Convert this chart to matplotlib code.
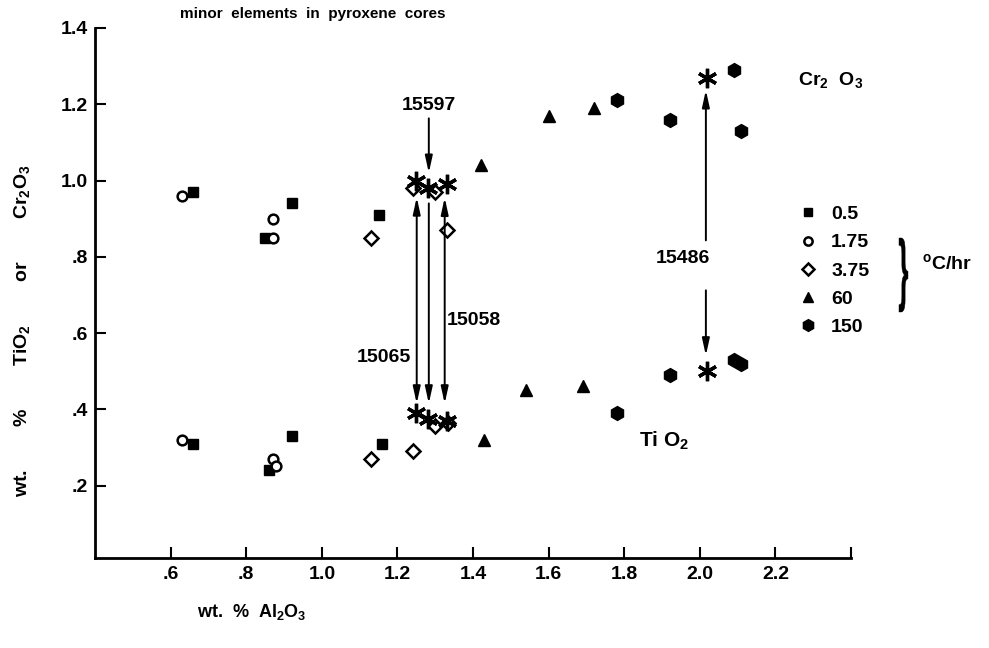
import matplotlib
matplotlib.use("Agg")
import matplotlib.pyplot as plt
from matplotlib.lines import Line2D
from matplotlib.textpath import TextPath
from matplotlib.patches import PathPatch
from matplotlib.font_manager import FontProperties
from matplotlib.transforms import Affine2D, IdentityTransform

plt.rcParams['font.family'] = ['Liberation Sans', 'DejaVu Sans']
plt.rcParams['font.weight'] = 'bold'
plt.rcParams['mathtext.default'] = 'regular'

# cooling rate 0.5 C/hr
r05_al_cr = [0.66, 0.85, 0.92, 1.15]
r05_cr = [0.97, 0.85, 0.94, 0.91]
r05_al_ti = [0.66, 0.86, 0.92, 1.16]
r05_ti = [0.31, 0.24, 0.33, 0.31]
# 1.75
r175_al_cr = [0.63, 0.87, 0.87]
r175_cr = [0.96, 0.90, 0.85]
r175_al_ti = [0.63, 0.87, 0.88]
r175_ti = [0.32, 0.27, 0.25]
# 3.75
r375_al_cr = [1.13, 1.24, 1.30, 1.33]
r375_cr = [0.85, 0.98, 0.97, 0.87]
r375_al_ti = [1.13, 1.24, 1.30, 1.335]
r375_ti = [0.27, 0.29, 0.355, 0.365]
# 60
r60_al_cr = [1.42, 1.60, 1.72]
r60_cr = [1.04, 1.17, 1.19]
r60_al_ti = [1.43, 1.54, 1.69]
r60_ti = [0.32, 0.45, 0.46]
# 150
r150_al = [1.78, 1.92, 2.09, 2.11]
r150_cr = [1.21, 1.16, 1.29, 1.13]
r150_ti = [0.39, 0.49, 0.53, 0.52]

# lunar samples (stars)
samples = ['15065', '15597', '15058', '15486']
sample_al = [1.25, 1.28, 1.33, 2.02]
sample_cr = [1.00, 0.98, 0.99, 1.27]
sample_ti = [0.39, 0.375, 0.37, 0.50]

rate_labels = ['0.5', '1.75', '3.75', '60', '150']

fig = plt.figure(figsize=(9.89, 6.48), dpi=100)
ax = fig.add_axes([0.0961, 0.1389, 0.7644, 0.8179])

sq = dict(marker='s', ms=7, color='black', ls='none')
ci = dict(marker='o', ms=7, mfc='white', mec='black', mew=1.8, ls='none')
di = dict(marker='D', ms=7, mfc='white', mec='black', mew=1.8, ls='none')
tr = dict(marker='^', ms=9, color='black', ls='none')
hx = dict(marker='h', ms=10, color='black', ls='none')
st = dict(marker=(6, 2, 0), ms=14, mew=2.4, color='black', ls='none')

# arrows between Cr2O3 and TiO2 stars
ap2 = dict(arrowstyle='<|-|>,head_length=1.0,head_width=0.22', color='black', lw=1.4, shrinkA=0, shrinkB=0)
ap1 = dict(arrowstyle='-|>,head_length=1.0,head_width=0.22', color='black', lw=1.4, shrinkA=0, shrinkB=0)
ax.annotate('', xy=(1.251, 0.415), xytext=(1.251, 0.956), arrowprops=ap2)
ax.annotate('', xy=(1.325, 0.415), xytext=(1.325, 0.955), arrowprops=ap2)
ax.annotate('', xy=(1.283, 0.415), xytext=(1.283, 0.94), arrowprops=ap1)
ax.annotate('', xy=(1.283, 1.02), xytext=(1.283, 1.163), arrowprops=ap1)
ax.annotate('', xy=(2.016, 1.237), xytext=(2.016, 0.843), arrowprops=ap1)
ax.annotate('', xy=(2.016, 0.541), xytext=(2.016, 0.712), arrowprops=ap1)

ax.text(1.283, 1.197, samples[1], ha='center', va='center', fontsize=14)
ax.text(1.164, 0.536, samples[0], ha='center', va='center', fontsize=14)
ax.text(1.402, 0.633, samples[2], ha='center', va='center', fontsize=14)
ax.text(1.954, 0.796, samples[3], ha='center', va='center', fontsize=14)

ax.plot(r05_al_cr, r05_cr, **sq)
ax.plot(r05_al_ti, r05_ti, **sq)
ax.plot(r175_al_cr, r175_cr, **ci)
ax.plot(r175_al_ti, r175_ti, **ci)
ax.plot(r375_al_cr, r375_cr, **di)
ax.plot(r375_al_ti, r375_ti, **di)
ax.plot(r60_al_cr, r60_cr, **tr)
ax.plot(r60_al_ti, r60_ti, **tr)
ax.plot(r150_al, r150_cr, **hx)
ax.plot(r150_al, r150_ti, **hx)
ax.plot(sample_al, sample_cr, **st)
ax.plot(sample_al, sample_ti, **st)

ax.text(2.26, 1.263, 'Cr$_2$  O$_3$', ha='left', va='center', fontsize=14)
ax.text(1.84, 0.318, 'Ti O$_2$', ha='left', va='center', fontsize=15)

ax.set_xlim(0.4, 2.4)
ax.set_ylim(0.01, 1.4)
ax.spines['top'].set_visible(False)
ax.spines['right'].set_visible(False)
ax.spines['left'].set_linewidth(2)
ax.spines['bottom'].set_linewidth(2)
ax.set_xticks([0.6, 0.8, 1.0, 1.2, 1.4, 1.6, 1.8, 2.0, 2.2, 2.4])
ax.set_xticklabels(['.6', '.8', '1.0', '1.2', '1.4', '1.6', '1.8', '2.0', '2.2', ''])
ax.set_yticks([0.2, 0.4, 0.6, 0.8, 1.0, 1.2, 1.4])
ax.set_yticklabels(['.2', '.4', '.6', '.8', '1.0', '1.2', '1.4'])
ax.tick_params(direction='in', length=8, width=1.5, labelsize=14, pad=6)
ax.tick_params(axis='y', pad=5)

handles = [Line2D([], [], **sq), Line2D([], [], **ci), Line2D([], [], **di),
           Line2D([], [], **tr), Line2D([], [], **hx)]
for h in handles:
    h.set_markersize(h.get_markersize() * 0.85)
fig.legend(handles, rate_labels, loc='upper left', bbox_to_anchor=(0.807, 0.683),
           frameon=False, fontsize=14, handlelength=1.0, handletextpad=0.7,
           labelspacing=0.55, borderpad=0, borderaxespad=0)

# tall thin brace, stretched from a text glyph (pixel coords, origin bottom-left)
brace = TextPath((0, 0), '}', size=20, prop=FontProperties(family='Liberation Sans'))
ext = brace.get_extents()
bw, bh = 9.0, 74.0
bx, by = 899.0, 648 - 312.0
tf = Affine2D().translate(-ext.x0, -ext.y0).scale(bw / ext.width, bh / ext.height).translate(bx, by)
fig.patches.append(PathPatch(brace, transform=tf + IdentityTransform(), color='black', lw=0.3))
fig.text(0.932, 0.594, '$^o$C/hr', fontsize=14, ha='left', va='center')

fig.text(0.316, 0.978, 'minor  elements  in  pyroxene  cores', fontsize=11,
         ha='center', va='center')
fig.text(0.022, 0.49, 'wt.        %        TiO$_2$        or        Cr$_2$O$_3$',
         fontsize=14, rotation=90, ha='center', va='center')
fig.text(0.255, 0.056, 'wt.  %  Al$_2$O$_3$', fontsize=13, ha='center', va='center')

fig.savefig('out.png', dpi=100)
